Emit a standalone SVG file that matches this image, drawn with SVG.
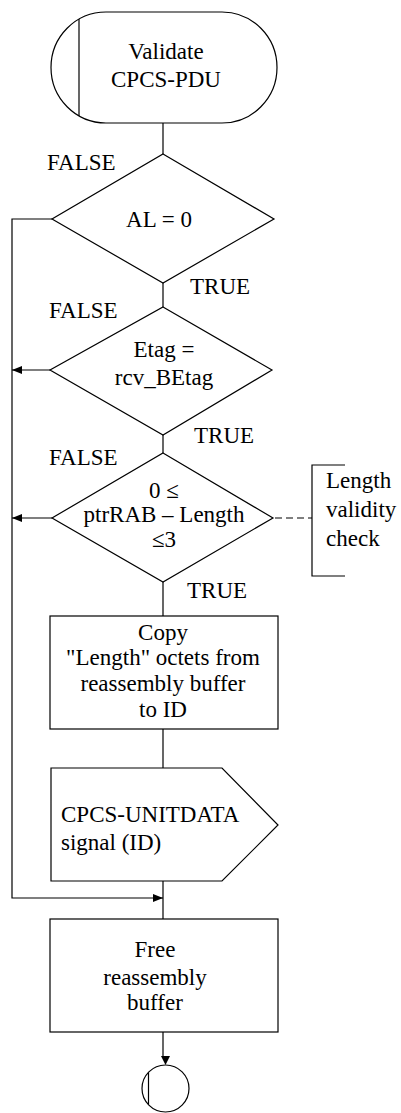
<svg xmlns="http://www.w3.org/2000/svg" width="401" height="1113" viewBox="0 0 401 1113">
<style>
.s{fill:#fff;stroke:#000;stroke-width:1.2}
.l{fill:none;stroke:#000;stroke-width:1.2}
.d{fill:none;stroke:#000;stroke-width:1.2;stroke-dasharray:7,4}
.a{fill:#000;stroke:none}
text{font-family:'Liberation Serif','DejaVu Serif',serif;font-size:23px;fill:#000}
.c{text-anchor:middle}
</style>
<defs>
<marker id="ah" viewBox="0 0 10 8" refX="10" refY="4" markerWidth="10" markerHeight="8" markerUnits="userSpaceOnUse" orient="auto">
<path d="M0,0 L10,4 L0,8 Z" fill="#000"/>
</marker>
</defs>
<rect width="401" height="1113" fill="#fff"/>
<g id="connectors">
<line class="l" x1="163" y1="123" x2="163" y2="154"/>
<line class="l" x1="163" y1="283" x2="163" y2="307"/>
<line class="l" x1="163" y1="435" x2="163" y2="453"/>
<line class="l" x1="163" y1="582" x2="163" y2="616"/>
<line class="l" x1="163" y1="729" x2="163" y2="768"/>
<line class="l" x1="163" y1="881" x2="163" y2="919"/>
<polyline class="l" points="52,219 12,219 12,898 163,898" marker-end="url(#ah)"/>
<line class="l" x1="50" y1="370" x2="12" y2="370" marker-end="url(#ah)"/>
<line class="l" x1="52" y1="518" x2="12" y2="518" marker-end="url(#ah)"/>
<line class="l" x1="163" y1="1032" x2="163" y2="1057"/>
<polygon class="a" points="161,1056 170,1056 165.5,1065"/>
<line class="d" x1="275" y1="518" x2="312" y2="518"/>
</g>
<g id="start">
<rect class="s" x="51" y="12" width="226" height="111" rx="55" ry="55.5"/>
<line class="l" x1="79" y1="19" x2="79" y2="116"/>
<text class="c" x="166" y="59">Validate</text>
<text class="c" x="166" y="87">CPCS-PDU</text>
</g>
<g id="dec1">
<polygon class="s" points="163,154 274,219 163,283 52,219"/>
<text class="c" x="159" y="227">AL = 0</text>
<text x="47" y="170">FALSE</text>
<text x="190" y="294">TRUE</text>
</g>
<g id="dec2">
<polygon class="s" points="163,307 272,370 163,435 50,370"/>
<text class="c" x="164" y="357">Etag =</text>
<text class="c" x="164" y="385">rcv_BEtag</text>
<text x="49" y="318">FALSE</text>
<text x="194" y="443">TRUE</text>
</g>
<g id="dec3">
<polygon class="s" points="163,453 273,518 163,582 52,518"/>
<text class="c" x="164" y="498">0 ≤</text>
<text class="c" x="164" y="522">ptrRAB – Length</text>
<text class="c" x="164" y="547">≤3</text>
<text x="49" y="465">FALSE</text>
<text x="187" y="598">TRUE</text>
</g>
<g id="comment">
<polyline class="l" points="345,465 312,465 312,576 345,576"/>
<text x="326" y="488">Length</text>
<text x="326" y="517">validity</text>
<text x="326" y="546">check</text>
</g>
<g id="copy">
<rect class="s" x="50" y="616" width="228" height="113"/>
<text class="c" x="163" y="640">Copy</text>
<text class="c" x="163" y="665">"Length" octets from</text>
<text class="c" x="163" y="691">reassembly buffer</text>
<text class="c" x="163" y="717">to ID</text>
</g>
<g id="signal">
<polygon class="s" points="51,768 222,768 278,825 222,881 51,881"/>
<text x="61" y="822">CPCS-UNITDATA</text>
<text x="61" y="850">signal (ID)</text>
</g>
<g id="free">
<rect class="s" x="50" y="919" width="228" height="113"/>
<text class="c" x="155" y="957">Free</text>
<text class="c" x="155" y="985">reassembly</text>
<text class="c" x="155" y="1010">buffer</text>
</g>
<g id="end">
<circle class="s" cx="165.5" cy="1088.5" r="23.5"/>
<line class="l" x1="148.5" y1="1072.5" x2="148.5" y2="1104.5"/>
</g>
</svg>
